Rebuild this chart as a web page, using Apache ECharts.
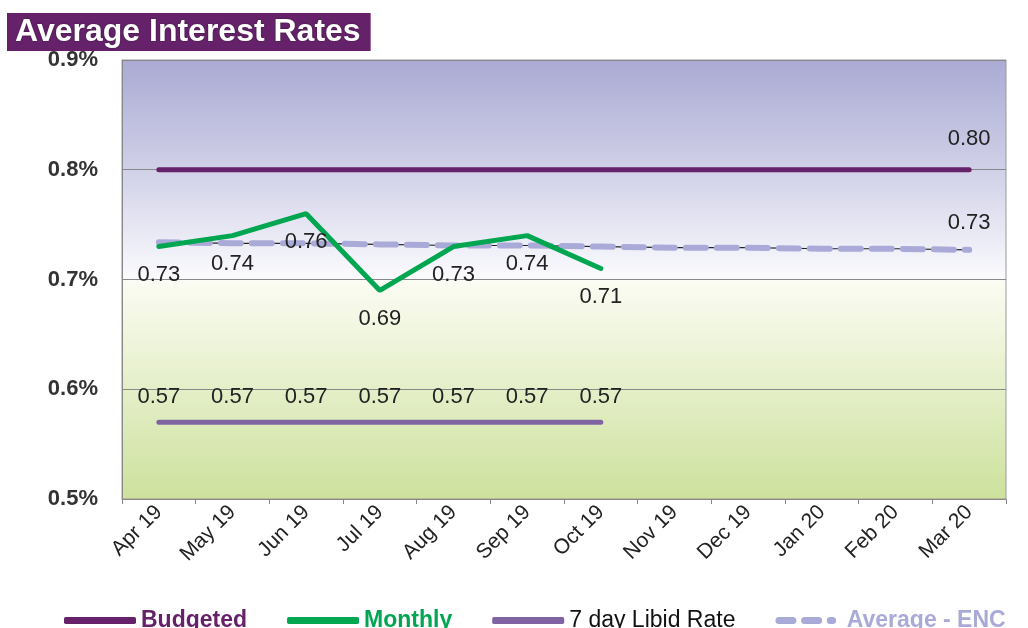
<!DOCTYPE html>
<html>
<head>
<meta charset="utf-8">
<script src="https://cdn.jsdelivr.net/npm/echarts@6/dist/echarts.min.js"></script>
<style>
  html, body { margin: 0; padding: 0; background: #fff; }
  #chart { width: 1028px; height: 628px; }
</style>
</head>
<body>
<div id="chart"></div>
<script>
const months = ['Apr 19', 'May 19', 'Jun 19', 'Jul 19', 'Aug 19', 'Sep 19', 'Oct 19', 'Nov 19', 'Dec 19', 'Jan 20', 'Feb 20', 'Mar 20'];
const budgeted = [0.80, 0.80, 0.80, 0.80, 0.80, 0.80, 0.80, 0.80, 0.80, 0.80, 0.80, 0.80];
const monthly = [0.73, 0.74, 0.76, 0.69, 0.73, 0.74, 0.71, null, null, null, null, null];
const libid = [0.57, 0.57, 0.57, 0.57, 0.57, 0.57, 0.57, null, null, null, null, null];
const averageEnc = [0.734, 0.733, 0.733, 0.732, 0.731, 0.731, 0.730, 0.729, 0.729, 0.728, 0.728, 0.727];
const yTicks = { min: 0.5, max: 0.9, step: 0.1 };

const fmt = p => Number(p.value).toFixed(2);
const labelFont = { fontFamily: 'Liberation Sans, Arial', fontSize: 22, color: '#222' };
// only the last point gets a label
const lastOnly = (arr, dist) => arr.map((v, i) => i === arr.length - 1
  ? { value: v, label: { show: true, position: 'top', distance: dist, formatter: fmt, ...labelFont } }
  : v);

// two dashes and a dot for the average legend icon
const dashIcon = 'path://M2,0h12a2,2 0 0 1 0,6h-12a2,2 0 0 1 0,-6z M24,0h12a2,2 0 0 1 0,6h-12a2,2 0 0 1 0,-6z M46,0h2a3,3 0 0 1 0,6h-2a3,3 0 0 1 0,-6z';

const chart = echarts.init(document.getElementById('chart'));
const option = {
  animation: false,
  title: {
    text: 'Average Interest Rates',
    left: 7,
    top: 13,
    padding: [3, 10, 3, 8],
    backgroundColor: '#65226a',
    textStyle: {
      color: '#fff',
      fontFamily: 'Liberation Sans, Arial',
      fontWeight: 'bold',
      fontSize: 32,
      lineHeight: 32,
      textShadowColor: 'rgba(0,0,0,0.5)',
      textShadowBlur: 2,
    },
  },
  legend: {
    left: 59,
    top: 604,
    width: 1300,
    itemWidth: 72,
    itemHeight: 7,
    itemGap: 40,
    textStyle: { fontFamily: 'Liberation Sans Narrow, Liberation Sans, Arial', fontSize: 23 },
    data: [
      { name: 'Budgeted', icon: 'roundRect', textStyle: { color: '#65226a', fontWeight: 'bold' } },
      { name: 'Monthly', icon: 'roundRect', textStyle: { color: '#00a650', fontWeight: 'bold' } },
      { name: '7 day Libid Rate', icon: 'roundRect', textStyle: { color: '#111' } },
      { name: 'Average - ENC', icon: dashIcon, itemStyle: { color: '#aaaad8' }, textStyle: { color: '#aaaad8', fontWeight: 'bold' } },
    ],
  },
  grid: {
    left: 122,
    right: 22,
    top: 60,
    bottom: 129,
    show: true,
    borderColor: '#999',
    borderWidth: 1,
    backgroundColor: new echarts.graphic.LinearGradient(0, 0, 0, 1, [
      { offset: 0, color: '#aaaad4' },
      { offset: 0.25, color: '#d0d0e8' },
      { offset: 0.5, color: '#fbfbfe' },
      { offset: 0.503, color: '#fbfcf3' },
      { offset: 1, color: '#cde19c' },
    ]),
  },
  xAxis: {
    type: 'category',
    data: months,
    boundaryGap: true,
    axisLine: { lineStyle: { color: '#888' } },
    axisTick: { show: true, length: 5, lineStyle: { color: '#888' } },
    axisLabel: {
      rotate: 45,
      margin: 10,
      interval: 0,
      fontFamily: 'Liberation Sans, Arial',
      fontSize: 21,
      color: '#222',
    },
  },
  yAxis: {
    type: 'value',
    min: yTicks.min,
    max: yTicks.max,
    interval: yTicks.step,
    axisLine: { show: true, lineStyle: { color: '#888' } },
    axisTick: { show: false },
    splitLine: { lineStyle: { color: '#888', width: 1 } },
    axisLabel: {
      margin: 24,
      formatter: v => v.toFixed(1) + '%',
      fontFamily: 'Liberation Sans, Arial',
      fontWeight: 'bold',
      fontSize: 22,
      color: '#333',
    },
  },
  series: [
    {
      name: 'avg-base',
      type: 'line',
      data: averageEnc,
      symbol: 'none',
      silent: true,
      lineStyle: { color: '#222', width: 1.2 },
      z: 1,
    },
    {
      name: 'Average - ENC',
      type: 'line',
      data: lastOnly(averageEnc, 16),
      symbol: 'circle',
      symbolSize: 0,
      itemStyle: { color: '#aaaad8' },
      lineStyle: { color: '#aaaad8', width: 6, type: [20, 11], cap: 'round' },
      z: 2,
    },
    {
      name: 'Budgeted',
      type: 'line',
      data: lastOnly(budgeted, 20),
      symbol: 'circle',
      symbolSize: 0,
      itemStyle: { color: '#65226a' },
      lineStyle: { color: '#65226a', width: 5, cap: 'round' },
      z: 3,
    },
    {
      name: 'Monthly',
      type: 'line',
      data: monthly,
      symbol: 'circle',
      symbolSize: 0,
      itemStyle: { color: '#00a650' },
      lineStyle: { color: '#00a650', width: 5, cap: 'round' },
      label: { show: true, position: 'bottom', distance: 17, formatter: fmt, ...labelFont },
      z: 4,
    },
    {
      name: '7 day Libid Rate',
      type: 'line',
      data: libid,
      symbol: 'circle',
      symbolSize: 0,
      itemStyle: { color: '#8064a2' },
      lineStyle: { color: '#8064a2', width: 5, cap: 'round' },
      label: { show: true, position: 'top', distance: 14, formatter: fmt, ...labelFont },
      z: 3,
    },
  ],
};
chart.setOption(option);
</script>
</body>
</html>
